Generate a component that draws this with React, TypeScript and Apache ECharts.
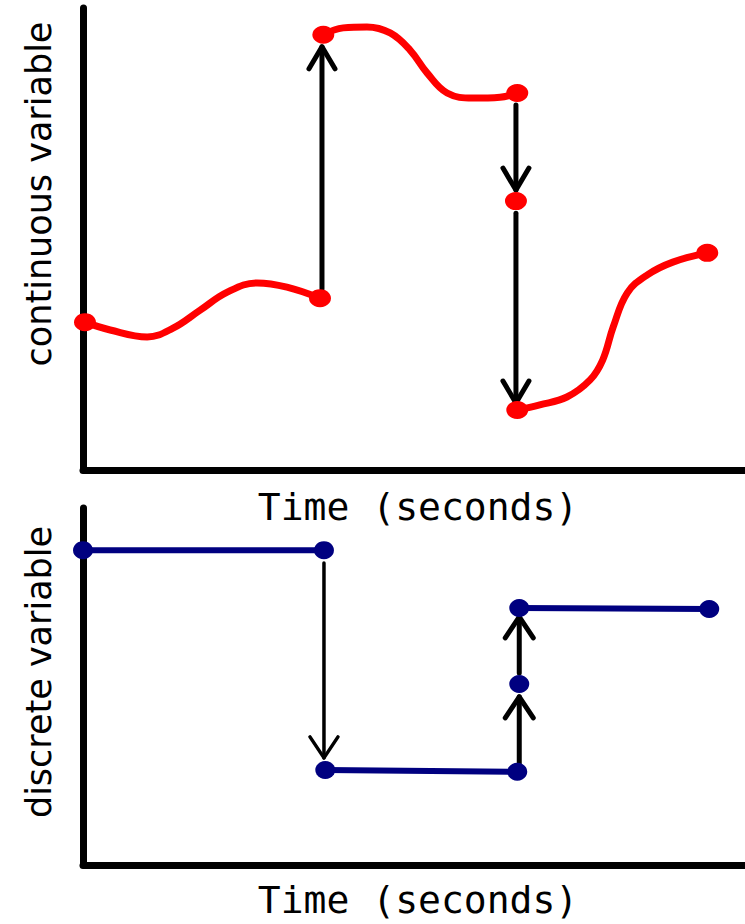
import React, { useEffect, useRef } from "react";
import * as echarts from "echarts";

// Top panel: continuous variable (time in s, value)
const contSeg1 = [
  [0.03, 3.2], [0.41, 3.03], [0.97, 2.88], [1.36, 3.07], [1.77, 3.46],
  [2.18, 3.85], [2.63, 4.05], [3.08, 3.96], [3.58, 3.72],
];
const contSeg2 = [
  [3.63, 9.42], [3.93, 9.57], [4.29, 9.59], [4.64, 9.46], [4.94, 9.09],
  [5.2, 8.59], [5.5, 8.16], [5.89, 8.05], [6.3, 8.07], [6.56, 8.16],
];
const contSeg3 = [
  [6.56, 1.3], [6.9, 1.41], [7.31, 1.58], [7.66, 1.95], [7.85, 2.38],
  [8.01, 3.1], [8.22, 3.83], [8.52, 4.22], [8.91, 4.5], [9.43, 4.7],
];
const contDots = [
  [0.03, 3.2], [3.58, 3.72], [3.63, 9.42], [6.56, 8.16], [6.54, 5.82],
  [6.56, 1.3], [9.43, 4.7],
];
// arrows: [x, from, to]
const contArrows = [
  [3.61, 3.92, 9.16],
  [6.54, 7.9, 6.06],
  [6.54, 5.56, 1.45],
];

// Bottom panel: discrete variable
const discSeg1 = [[0.0, 8.82], [3.64, 8.82]];
const discSeg2 = [[3.66, 2.66], [6.56, 2.61]];
const discSeg3 = [[6.59, 7.2], [9.46, 7.17]];
const discDots = [
  [0.0, 8.82], [3.64, 8.82], [3.66, 2.66], [6.56, 2.61], [6.59, 5.07],
  [6.59, 7.2], [9.46, 7.17],
];
const discArrows = [
  [3.64, 8.46, 3.0],
  [6.59, 2.8, 4.71],
  [6.59, 5.38, 6.95],
];

const xTitle = "Time (seconds)";
const yTitleTop = "continuous variable";
const yTitleBottom = "discrete variable";

function arrowSeries(data: number[][], gridIdx: number, lw: number, hw: number, len: number) {
  return {
    type: "custom",
    xAxisIndex: gridIdx,
    yAxisIndex: gridIdx,
    coordinateSystem: "cartesian2d",
    clip: false,
    z: 3,
    encode: { x: 0, y: [1, 2] },
    data,
    renderItem: (params: any, api: any) => {
      const x = api.value(0);
      const p0 = api.coord([x, api.value(1)]);
      const p1 = api.coord([x, api.value(2)]);
      const dir = p1[1] > p0[1] ? 1 : -1;
      const style = { stroke: "#000", lineWidth: lw, lineCap: "round", lineJoin: "round", fill: null };
      return {
        type: "group",
        children: [
          { type: "line", shape: { x1: p0[0], y1: p0[1], x2: p1[0], y2: p1[1] }, style },
          {
            type: "polyline",
            shape: {
              points: [
                [p1[0] - hw, p1[1] - dir * len],
                [p1[0], p1[1]],
                [p1[0] + hw, p1[1] - dir * len],
              ],
            },
            style,
          },
        ],
      };
    },
  };
}

const axisBase = (gridIndex: number) => ({
  gridIndex,
  type: "value",
  min: 0,
  max: 10,
  axisLine: { show: true, onZero: false, lineStyle: { color: "#000", width: 7, cap: "round" } },
  axisTick: { show: false },
  axisLabel: { show: false },
  splitLine: { show: false },
});

export default function App() {
  const ref = useRef<HTMLDivElement>(null);
  useEffect(() => {
    if (!ref.current) return;
    const chart = echarts.init(ref.current, null, { renderer: "svg" });
    const lineStyleRed = { color: "#ff0000", width: 7, cap: "round" };
    const lineStyleNavy = { color: "#000080", width: 6, cap: "round" };
    chart.setOption({
      animation: false,
      backgroundColor: "#ffffff",
      grid: [
        { left: 83, top: 8, width: 662, height: 462 },
        { left: 83, top: 508, width: 662, height: 357 },
      ],
      xAxis: [axisBase(0), axisBase(1)],
      yAxis: [axisBase(0), axisBase(1)],
      series: [
        ...[contSeg1, contSeg2, contSeg3].map((d) => ({
          type: "line",
          xAxisIndex: 0,
          yAxisIndex: 0,
          data: d,
          smooth: 0.4,
          showSymbol: false,
          lineStyle: lineStyleRed,
          z: 2,
        })),
        {
          type: "scatter",
          xAxisIndex: 0,
          yAxisIndex: 0,
          data: contDots,
          symbol: "circle",
          symbolSize: [22, 18],
          itemStyle: { color: "#ff0000", opacity: 1 },
          z: 4,
        },
        arrowSeries(contArrows, 0, 5, 13, 22),
        ...[discSeg1, discSeg2, discSeg3].map((d) => ({
          type: "line",
          xAxisIndex: 1,
          yAxisIndex: 1,
          data: d,
          showSymbol: false,
          lineStyle: lineStyleNavy,
          z: 2,
        })),
        {
          type: "scatter",
          xAxisIndex: 1,
          yAxisIndex: 1,
          data: discDots,
          symbol: "circle",
          symbolSize: [20, 18],
          itemStyle: { color: "#000080", opacity: 1 },
          z: 4,
        },
        arrowSeries(discArrows.slice(0, 1), 1, 3.5, 14, 21),
        arrowSeries(discArrows.slice(1), 1, 5, 14, 21),
      ],
      graphic: [
        {
          type: "text",
          x: 39,
          y: 194,
          rotation: Math.PI / 2,
          style: {
            text: yTitleTop,
            font: "35px 'DejaVu Sans'",
            fill: "#000",
            textAlign: "center",
            textVerticalAlign: "middle",
          },
        },
        {
          type: "text",
          x: 39,
          y: 672,
          rotation: Math.PI / 2,
          style: {
            text: yTitleBottom,
            font: "35px 'DejaVu Sans'",
            fill: "#000",
            textAlign: "center",
            textVerticalAlign: "middle",
          },
        },
        {
          type: "text",
          x: 418,
          y: 507,
          style: {
            text: xTitle,
            font: "38px 'DejaVu Sans Mono'",
            fill: "#000",
            textAlign: "center",
            textVerticalAlign: "middle",
          },
        },
        {
          type: "text",
          x: 418,
          y: 900,
          style: {
            text: xTitle,
            font: "38px 'DejaVu Sans Mono'",
            fill: "#000",
            textAlign: "center",
            textVerticalAlign: "middle",
          },
        },
      ],
    });
    return () => chart.dispose();
  }, []);
  return (
    <div
      ref={ref}
      style={{ position: "fixed", left: 0, top: 0, width: 745, height: 924 }}
    />
  );
}
